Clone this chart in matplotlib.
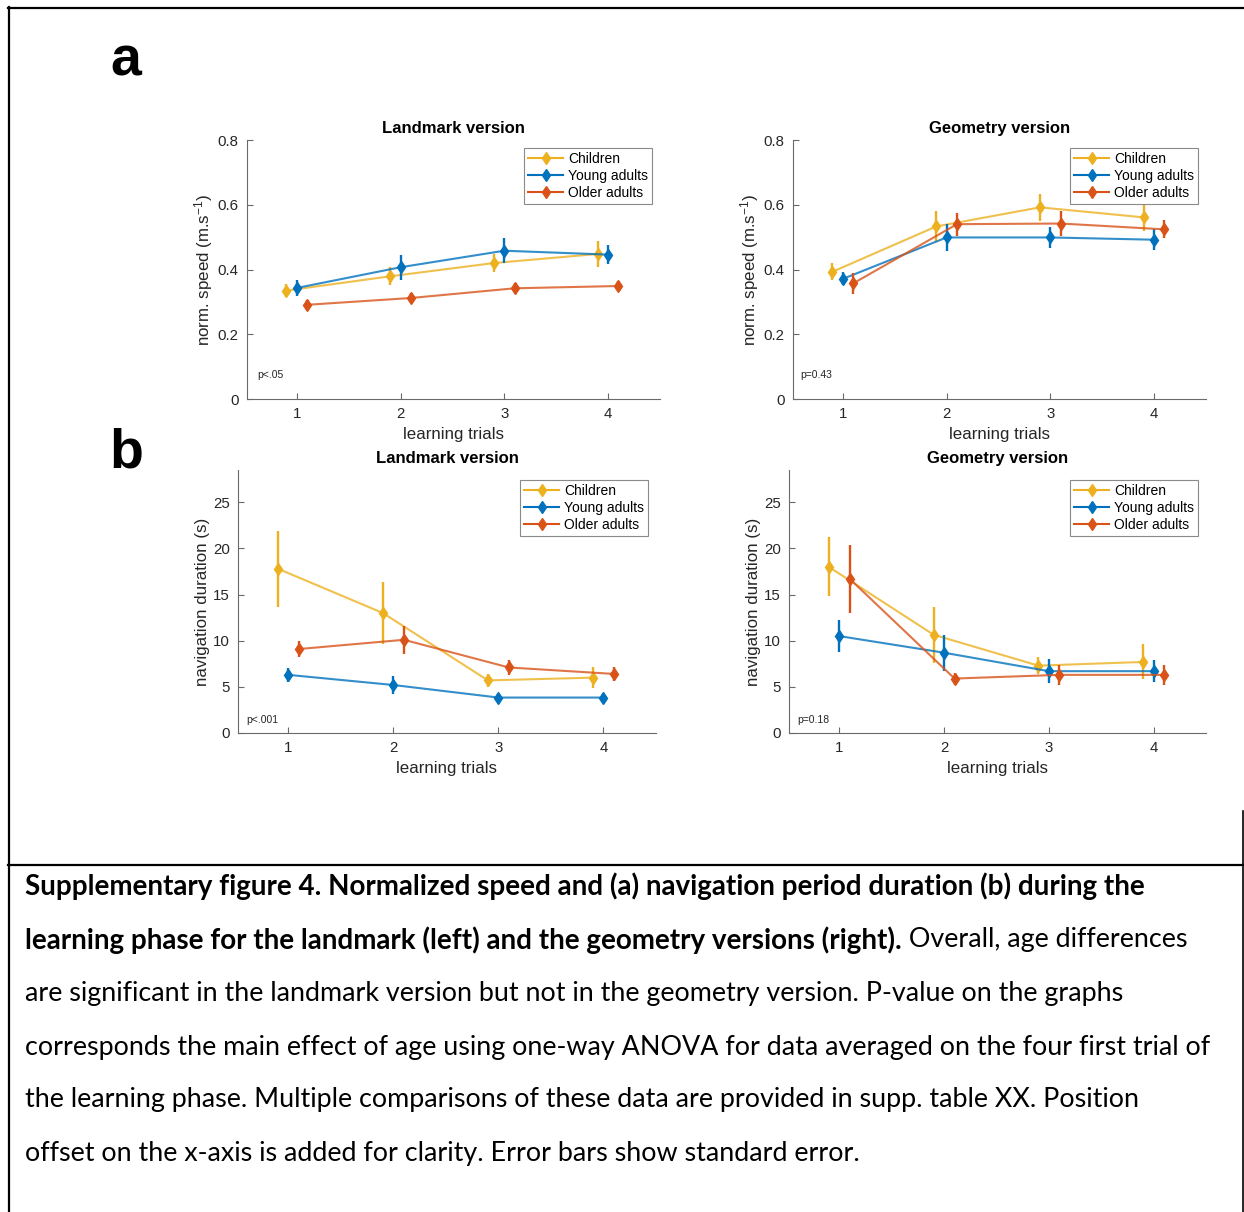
import numpy as np
import matplotlib.pyplot as plt
from matplotlib.lines import Line2D

plt.rcParams['font.family'] = ['Liberation Sans', 'DejaVu Sans']
plt.rcParams['mathtext.default'] = 'regular'

trials = np.array([1, 2, 3, 4])
groups = ["Children", "Young adults", "Older adults"]

# (a) normalized speed, landmark version
speed_lm_children = [0.335, 0.379, 0.420, 0.448]
speed_lm_children_se = [0.020, 0.028, 0.029, 0.040]
speed_lm_young = [0.343, 0.407, 0.458, 0.446]
speed_lm_young_se = [0.026, 0.039, 0.039, 0.029]
speed_lm_older = [0.291, 0.312, 0.342, 0.349]
speed_lm_older_se = [0.015, 0.015, 0.015, 0.015]

# (a) normalized speed, geometry version
speed_geo_children = [0.393, 0.533, 0.592, 0.561]
speed_geo_children_se = [0.026, 0.049, 0.041, 0.041]
speed_geo_young = [0.371, 0.499, 0.499, 0.492]
speed_geo_young_se = [0.020, 0.043, 0.033, 0.033]
speed_geo_older = [0.357, 0.540, 0.542, 0.524]
speed_geo_older_se = [0.032, 0.036, 0.039, 0.028]

# (b) navigation duration, landmark version
dur_lm_children = [17.8, 13.0, 5.7, 6.0]
dur_lm_children_se = [4.1, 3.4, 0.7, 1.1]
dur_lm_young = [6.3, 5.2, 3.84, 3.84]
dur_lm_young_se = [0.72, 0.94, 0.4, 0.35]
dur_lm_older = [9.1, 10.1, 7.1, 6.4]
dur_lm_older_se = [0.87, 1.52, 0.8, 0.76]

# (b) navigation duration, geometry version
dur_geo_children = [18.0, 10.65, 7.3, 7.7]
dur_geo_children_se = [3.2, 3.05, 0.95, 1.9]
dur_geo_young = [10.5, 8.7, 6.7, 6.7]
dur_geo_young_se = [1.72, 1.95, 1.27, 1.2]
dur_geo_older = [16.7, 5.9, 6.3, 6.3]
dur_geo_older_se = [3.65, 0.65, 1.1, 1.05]

p_values = ["p<.05", "p=0.43", "p<.001", "p=0.18"]

colors = ["#EDB120", "#0072BD", "#D95319"]
offsets = [-0.1, 0.0, 0.1]

W, H = 1244, 1212
fig = plt.figure(figsize=(W / 100, H / 100), dpi=100)


def px_axes(left, top, right, bottom):
    return fig.add_axes([left / W, 1 - bottom / H, (right - left) / W, (bottom - top) / H])


def draw_panel(ax, means, errs, ylim, yticks, title, ylabel, ptext, ptext_xy, leg_anchor):
    for i, (m, e) in enumerate(zip(means, errs)):
        x = trials + offsets[i]
        ax.plot(x, m, color=colors[i], lw=1.5, alpha=0.8, zorder=2 + i)
        ax.errorbar(x, m, yerr=e, fmt="d", color=colors[i], ms=6.5,
                    elinewidth=1.7, capsize=0, zorder=2 + i)
    ax.set_xlim(0.52, 4.5)
    ax.set_ylim(*ylim)
    ax.set_xticks(trials)
    ax.set_yticks(yticks)
    ax.set_yticklabels([f"{t:g}" for t in yticks])
    for s in ["top", "right"]:
        ax.spines[s].set_visible(False)
    for s in ["left", "bottom"]:
        ax.spines[s].set_color("#6a6a6a")
        ax.spines[s].set_linewidth(0.8)
    ax.tick_params(direction="in", length=4, width=0.8, color="#6a6a6a",
                   labelsize=10.8, labelcolor="#262626", pad=6)
    ax.set_title(title, fontsize=12, fontweight="bold", pad=5)
    ax.set_xlabel("learning trials", fontsize=12.2, color="#262626", labelpad=4)
    ax.set_ylabel(ylabel, fontsize=12.2, color="#262626", labelpad=2)
    ax.text(ptext_xy[0], ptext_xy[1], ptext, transform=ax.transAxes, fontsize=7.5,
            color="#262626", ha="left", va="center")
    handles = [Line2D([], [], color=c, marker="d", ms=6, lw=1.5) for c in colors]
    leg = ax.legend(handles, groups, loc="upper right", bbox_to_anchor=leg_anchor,
                    fontsize=10, frameon=True, fancybox=False, framealpha=1,
                    edgecolor="#8a8a8a", borderpad=0.3, labelspacing=0.22,
                    handlelength=2.5, handletextpad=0.35, borderaxespad=0)
    leg.get_frame().set_linewidth(0.8)


ax1 = px_axes(247, 140, 660, 399)
draw_panel(ax1, [speed_lm_children, speed_lm_young, speed_lm_older],
           [speed_lm_children_se, speed_lm_young_se, speed_lm_older_se],
           (0, 0.8), [0, 0.2, 0.4, 0.6, 0.8], "Landmark version",
           "norm. speed (m.s$^{-1}$)", p_values[0], (0.024, 0.093), (0.981, 0.969))

ax2 = px_axes(793, 140, 1206, 399)
draw_panel(ax2, [speed_geo_children, speed_geo_young, speed_geo_older],
           [speed_geo_children_se, speed_geo_young_se, speed_geo_older_se],
           (0, 0.8), [0, 0.2, 0.4, 0.6, 0.8], "Geometry version",
           "norm. speed (m.s$^{-1}$)", p_values[1], (0.017, 0.093), (0.981, 0.969))

ax3 = px_axes(238, 470, 656, 733)
draw_panel(ax3, [dur_lm_children, dur_lm_young, dur_lm_older],
           [dur_lm_children_se, dur_lm_young_se, dur_lm_older_se],
           (0, 28.5), [0, 5, 10, 15, 20, 25], "Landmark version",
           "navigation duration (s)", p_values[2], (0.019, 0.05), (0.981, 0.962))

ax4 = px_axes(789, 470, 1206, 733)
draw_panel(ax4, [dur_geo_children, dur_geo_young, dur_geo_older],
           [dur_geo_children_se, dur_geo_young_se, dur_geo_older_se],
           (0, 28.5), [0, 5, 10, 15, 20, 25], "Geometry version",
           "navigation duration (s)", p_values[3], (0.019, 0.05), (0.981, 0.962))

# panel letters
fig.text(126 / W, 1 - 62 / H, "a", fontsize=40, fontweight="bold", ha="center", va="center")
fig.text(126 / W, 1 - 468 / H, "b", fontsize=40, fontweight="bold", ha="center", va="baseline")


# frame lines around figure and caption
def hline(y, x0, x1, lw=1.6):
    fig.add_artist(Line2D([x0 / W, x1 / W], [1 - y / H, 1 - y / H], color="black", lw=lw))


def vline(x, y0, y1, lw=1.6):
    fig.add_artist(Line2D([x / W, x / W], [1 - y0 / H, 1 - y1 / H], color="black", lw=lw))


hline(7.5, 8, W)
vline(8.5, 7, H)
hline(865, 8, W)
vline(1242.5, 811, H, lw=1.2)

# caption
cap_family = ["Lato", "DejaVu Sans"]
bold_lines = [
    "Supplementary figure 4. Normalized speed and (a) navigation period duration (b) during the",
    "learning phase for the landmark (left) and the geometry versions (right).",
]
rest_lines = [
    " Overall, age differences",
    "are significant in the landmark version but not in the geometry version. P-value on the graphs",
    "corresponds the main effect of age using one-way ANOVA for data averaged on the four first trial of",
    "the learning phase. Multiple comparisons of these data are provided in supp. table XX. Position",
    "offset on the x-axis is added for clarity. Error bars show standard error.",
]
line_y = [886, 940, 993, 1047, 1100, 1154]
x0 = 25

renderer = fig.canvas.get_renderer()


def fit_size(text, target, weight="normal"):
    probe = fig.text(0, 0, text, fontsize=20, family=cap_family, fontweight=weight)
    w = probe.get_window_extent(renderer).width
    probe.remove()
    return 20 * target / w


cap_size = fit_size(rest_lines[2], 1212 - x0)
bold_size = fit_size(bold_lines[0], 1143 - x0, "bold")

fig.text(x0 / W, 1 - line_y[0] / H, bold_lines[0], fontsize=bold_size,
         fontweight="bold", family=cap_family, va="center")
t = fig.text(x0 / W, 1 - line_y[1] / H, bold_lines[1], fontsize=bold_size,
             fontweight="bold", family=cap_family, va="center")
bx = t.get_window_extent(renderer).x1
fig.text(bx / W, 1 - line_y[1] / H, rest_lines[0], fontsize=cap_size,
         family=cap_family, va="center")
for txt, y in zip(rest_lines[1:], line_y[2:]):
    fig.text(x0 / W, 1 - y / H, txt, fontsize=cap_size, family=cap_family, va="center")

fig.savefig("out.png", dpi=100, facecolor="white")
